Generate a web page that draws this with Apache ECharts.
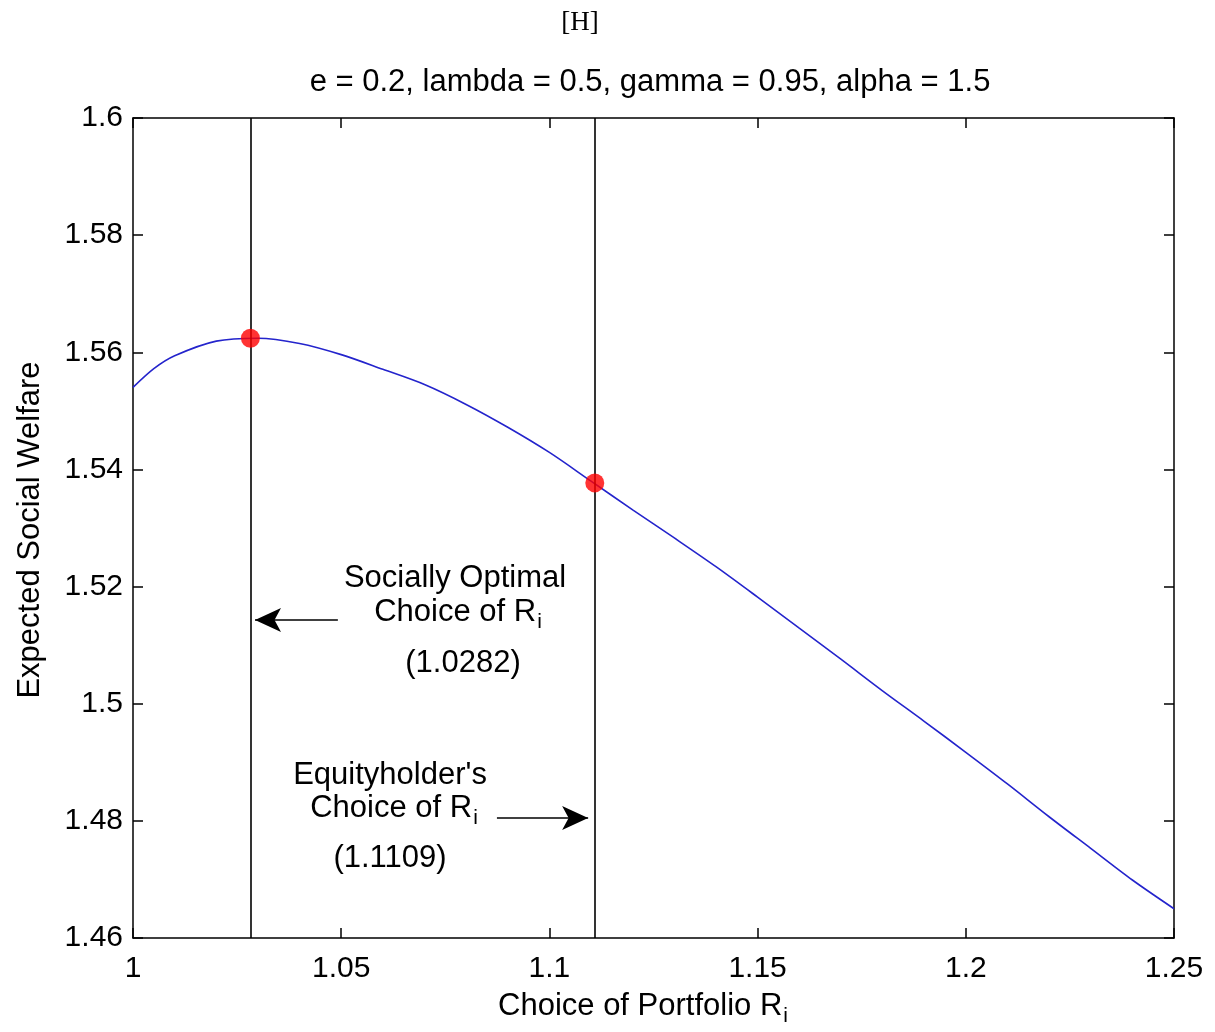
<!DOCTYPE html>
<html>
<head>
<meta charset="utf-8">
<script src="https://cdn.jsdelivr.net/npm/echarts@6/dist/echarts.min.js"></script>
<style>html,body{margin:0;padding:0;background:#fff}#c{width:1215px;height:1032px}</style>
</head>
<body>
<div id="c"></div>
<script>
const portfolioR = [1.00, 1.005, 1.01, 1.02, 1.03, 1.04, 1.05, 1.06, 1.07, 1.08, 1.09, 1.10, 1.11, 1.12, 1.13, 1.14, 1.15, 1.16, 1.17, 1.18, 1.19, 1.20, 1.21, 1.22, 1.23, 1.24, 1.25];
const welfare = [1.5540, 1.5572, 1.5594, 1.5619, 1.5624, 1.5615, 1.5596, 1.5571, 1.5545, 1.5511, 1.5472, 1.5429, 1.5380, 1.5331, 1.5283, 1.5234, 1.5182, 1.5129, 1.5076, 1.5022, 1.4970, 1.4917, 1.4863, 1.4807, 1.4753, 1.4699, 1.4650];
const optimalChoice = [1.0282, 1.5624];
const equityChoice = [1.1109, 1.5377];
const arrowOptimal = [[1.0492, 1.5143], [1.0293, 1.5143]];
const arrowEquity = [[1.0874, 1.4805], [1.1093, 1.4805]];
const yRange = [1.46, 1.6];
const titleText = 'e = 0.2, lambda = 0.5, gamma = 0.95, alpha = 1.5';

const FONT = '"Liberation Sans", Arial, sans-serif';
const chart = echarts.init(document.getElementById('c'), null, {renderer: 'canvas'});
const fmt = v => String(+v.toFixed(2));
const subRich = {
  m: {fontSize: 31, fontFamily: FONT, color: '#000', lineHeight: 34, verticalAlign: 'top'},
  s: {fontSize: 21, fontFamily: FONT, color: '#000', lineHeight: 34, verticalAlign: 'top', padding: [15, 0, 0, 1]}
};
const axisCommon = {
  type: 'value',
  axisLine: {show: true, lineStyle: {color: '#000', width: 1.5}},
  axisTick: {show: true, inside: true, length: 10, lineStyle: {color: '#000', width: 1.5}},
  splitLine: {show: false}
};
const plainText = (x, y, text) => ({
  type: 'text', x: x, y: y,
  style: {text: text, font: '31px ' + FONT, fill: '#000', align: 'center', verticalAlign: 'middle'}
});
const subText = (x, y, text) => ({
  type: 'text', x: x, y: y,
  style: {text: text, rich: subRich, align: 'center', verticalAlign: 'top'}
});
chart.setOption({
  animation: false,
  backgroundColor: '#fff',
  grid: {left: 133, right: 41, top: 118, bottom: 94},
  xAxis: [
    Object.assign({}, axisCommon, {
      min: 1, max: 1.25, interval: 0.05, position: 'bottom',
      axisLabel: {formatter: fmt, fontSize: 30, fontFamily: FONT, color: '#000', margin: 16}
    }),
    Object.assign({}, axisCommon, {
      min: 1, max: 1.25, interval: 0.05, position: 'top', axisLabel: {show: false}
    })
  ],
  yAxis: [
    Object.assign({}, axisCommon, {
      min: yRange[0], max: yRange[1], interval: 0.02, position: 'left',
      axisLabel: {formatter: fmt, fontSize: 30, fontFamily: FONT, color: '#000', margin: 10}
    }),
    Object.assign({}, axisCommon, {
      min: yRange[0], max: yRange[1], interval: 0.02, position: 'right', axisLabel: {show: false}
    })
  ],
  series: [
    {
      type: 'line',
      data: portfolioR.map((x, i) => [x, welfare[i]]),
      showSymbol: false,
      smooth: 0.3,
      lineStyle: {color: '#2424cc', width: 1.6}
    },
    {
      type: 'line',
      data: [],
      markLine: {
        silent: true,
        label: {show: false},
        symbolSize: [18, 26],
        lineStyle: {color: '#000', width: 1.6, type: 'solid'},
        data: [
          [{coord: [optimalChoice[0], yRange[0]], symbol: 'none'}, {coord: [optimalChoice[0], yRange[1]], symbol: 'none'}],
          [{coord: [equityChoice[0], yRange[0]], symbol: 'none'}, {coord: [equityChoice[0], yRange[1]], symbol: 'none'}],
          [{coord: arrowOptimal[0], symbol: 'none'}, {coord: arrowOptimal[1], symbol: 'arrow'}],
          [{coord: arrowEquity[0], symbol: 'none'}, {coord: arrowEquity[1], symbol: 'arrow'}]
        ]
      }
    },
    {
      type: 'scatter',
      data: [optimalChoice, equityChoice],
      symbol: 'circle',
      symbolSize: 19,
      itemStyle: {color: '#ff0000'},
      z: 5
    }
  ],
  graphic: [
    {type: 'text', x: 580, y: 23, style: {text: '[H]', font: '27px "Liberation Serif", serif', fill: '#000', align: 'center', verticalAlign: 'middle'}},
    plainText(650, 82, titleText),
    {type: 'text', x: 30, y: 530, rotation: Math.PI / 2, style: {text: 'Expected Social Welfare', font: '31px ' + FONT, fill: '#000', align: 'center', verticalAlign: 'middle'}},
    subText(643, 991, '{m|Choice of Portfolio R}{s|i}'),
    plainText(455, 578, 'Socially Optimal'),
    subText(458, 597, '{m|Choice of R}{s|i}'),
    plainText(463, 663, '(1.0282)'),
    plainText(390, 775, "Equityholder's"),
    subText(394, 793, '{m|Choice of R}{s|i}'),
    plainText(390, 858, '(1.1109)')
  ]
});
</script>
</body>
</html>
